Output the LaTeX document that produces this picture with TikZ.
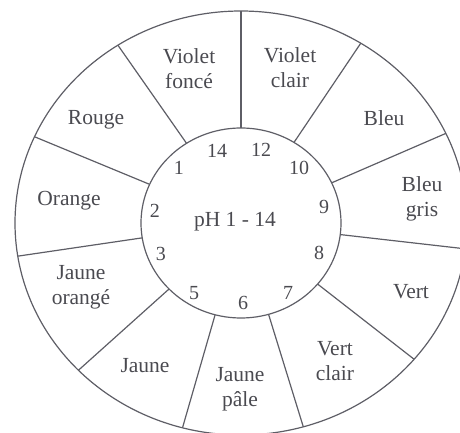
\documentclass[tikz,border=0pt]{standalone}
\usepackage{fontspec}
\setmainfont{Liberation Serif}
\definecolor{linegray}{HTML}{5E5E66}
\definecolor{txtgray}{HTML}{4A4A50}

\begin{document}
\begin{tikzpicture}[x=1pt,y=1pt,
  ring/.style={draw=linegray,line width=1.2pt},
  colour/.style={text=txtgray,font=\fontsize{21.5}{25}\selectfont,align=center},
  phnum/.style={text=txtgray,font=\fontsize{20}{24}\selectfont}]

  \useasboundingbox (-241,-210) rectangle (219,223);
  \clip (-241,-210) rectangle (219,223);

  \draw[ring] (0,0) ellipse (226pt and 212pt);
  \draw[ring] (0,0) ellipse (100pt and 95pt);
  \foreach \a in {90,58,25,-7,-40,-74,-105,-136,-171,156,123}
    \draw[ring] (\a:100pt and 95pt) -- (\a:226pt and 212pt);

  \node[colour] (vfonce)   at (-52,154)  {Violet\\fonc\'e};
  \node[colour] (vclair)   at (49,155)   {Violet\\clair};
  \node[colour] (rouge)    at (-145,103) {Rouge};
  \node[colour] (bleu)     at (143,105)  {Bleu};
  \node[colour] (orange)   at (-172,22)  {Orange};
  \node[colour] (bleugris) at (181,24)   {Bleu\\gris};
  \node[colour] (jorange)  at (-160,-64) {Jaune\\orang\'e};
  \node[colour] (vert)     at (170,-69)  {Vert};
  \node[colour] (jaune)    at (-96,-143) {Jaune};
  \node[colour] (vertcl)   at (94,-138)  {Vert\\clair};
  \node[colour] (jpale)    at (-1,-166)  {Jaune\\p\^ale};

  \node[colour] (ph) at (-6,1) {pH 1 - 14};

  \node[phnum] (n14) at (-24,72) {14};
  \node[phnum] (n12) at (20,73)  {12};
  \node[phnum] (n1)  at (-62,55) {1};
  \node[phnum] (n10) at (58,55)  {10};
  \node[phnum] (n2)  at (-86,12) {2};
  \node[phnum] (n9)  at (83,16)  {9};
  \node[phnum] (n3)  at (-80,-31) {3};
  \node[phnum] (n8)  at (78,-30) {8};
  \node[phnum] (n5)  at (-47,-70) {5};
  \node[phnum] (n7)  at (47,-70)  {7};
  \node[phnum] (n6)  at (2,-80)   {6};
\end{tikzpicture}
\end{document}
